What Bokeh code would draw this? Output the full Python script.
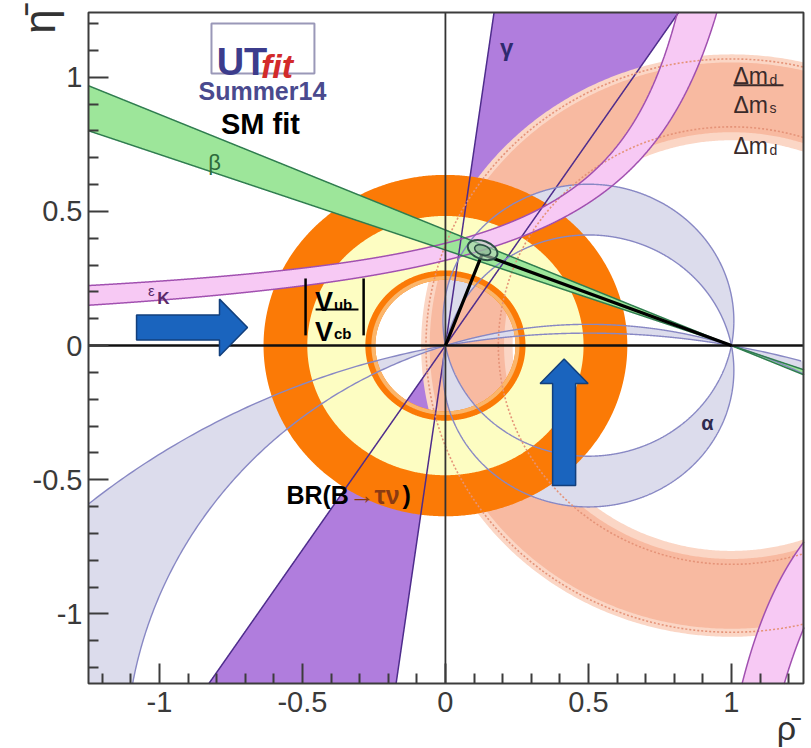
import numpy as np
from bokeh.plotting import figure
from bokeh.models import Label, FixedTicker, Range1d, NumeralTickFormatter
from bokeh.embed import file_html
from bokeh.resources import INLINE

# ---------------------------------------------------------------- data
# visible plot box in (rho, eta)
RHO_BOX = (-1.248, 1.252)
ETA_BOX = (-1.259, 1.241)
# the canvas around it (axes, tick labels and titles live outside the box)
RHO_VIEW = (-1.5557, 1.2800)
ETA_VIEW = (-1.5012, 1.2857)

major_ticks = [-1, -0.5, 0, 0.5, 1]
minor_ticks = [-1.2, -1.1, -0.9, -0.8, -0.7, -0.6, -0.4, -0.3, -0.2, -0.1,
               0.1, 0.2, 0.3, 0.4, 0.6, 0.7, 0.8, 0.9, 1.1, 1.2]

# gamma: angle band (deg) seen from (0,0); drawn with its mirror at +180 deg
gamma_deg = [56.7, 82.2]
# beta: angle band (deg) seen from (1,0)
beta_deg = [19.6, 23.3]
# alpha: (side of the rho axis, alpha low, alpha high) in deg
alpha_sides = [+1, -1, -1, +1]
alpha_lo = [79.5, 79.5, 10.6, 162.0]
alpha_hi = [101.0, 101.0, 18.0, 169.4]
# |Vub/Vcb|: circles around (0,0)
vub_95 = [0.245, 0.636]
vub_68 = [0.280, 0.483]
# Delta m_d and Delta m_d / Delta m_s: circles around (1,0)
dmd_band = [0.765, 1.085]
dmd_dms_band = [0.795, 1.055]
dmd_dotted = [0.815, 1.068]
# eps_K edges, eta = eta0 + k / (rho0 - rho)
epsk_rho0 = [1.09, 1.30, 0.738, 0.837]
epsk_k = [0.322, 0.444, 0.377, 0.438]
epsk_eta0 = [0.086, -0.024, 0.0, 0.0]
# fitted apex and its probability contours
apex_rho, apex_eta = 0.128, 0.340
fit_rho, fit_eta = 0.130, 0.356
fit_w = [0.108, 0.058]
fit_h = [0.068, 0.036]
# block arrows: tail, tip, head base (along the arrow), half widths
arrow_tail = [(-1.080, 0.067), (0.415, -0.521)]
arrow_tip = [(-0.692, 0.067), (0.415, -0.050)]
arrow_head_base = [-0.790, -0.141]
arrow_body_hw = [0.0466, 0.0402]
arrow_head_hw = [0.106, 0.0839]

# ---------------------------------------------------------------- style
FONT = "Liberation Sans"
C_FRAME = "#3c3c3c"
C_GAMMA, C_GAMMA_L = "#b07ddd", "#4e2c8c"
C_BETA, C_BETA_L = "#9de69a", "#2f7d4f"
C_ALPHA, C_ALPHA_L = "#dcdcec", "#8888c4"
C_ORANGE, C_YELLOW, C_ORANGE_L = "#fb7a06", "#fdfdc2", "#fbb56a"
C_DMD, C_DMDS, C_DM_L = "#fbd6c5", "#f8baa1", "#e59378"
C_EPS, C_EPS_L = "#f7c9f4", "#a150b0"
C_ARROW, C_ARROW_L = "#1a64be", "#123f7c"
FAR = 3.0
PAD = 0.002
BOX = (RHO_BOX[0] - PAD, RHO_BOX[1] + PAD, ETA_BOX[0] - PAD, ETA_BOX[1] + PAD)


# ---------------------------------------------------------------- geometry helpers
def _cut_x(a, b, xc):
    t = (xc - a[0]) / (b[0] - a[0])
    return (xc, a[1] + t * (b[1] - a[1]))


def _cut_y(a, b, yc):
    t = (yc - a[1]) / (b[1] - a[1])
    return (a[0] + t * (b[0] - a[0]), yc)


def clip_poly(x, y):
    """Sutherland-Hodgman clipping of a polygon to the plot box."""
    pts = list(zip(map(float, x), map(float, y)))
    xmin, xmax, ymin, ymax = BOX
    tests = [
        (lambda q: q[0] >= xmin, lambda a, b: _cut_x(a, b, xmin)),
        (lambda q: q[0] <= xmax, lambda a, b: _cut_x(a, b, xmax)),
        (lambda q: q[1] >= ymin, lambda a, b: _cut_y(a, b, ymin)),
        (lambda q: q[1] <= ymax, lambda a, b: _cut_y(a, b, ymax)),
    ]
    for inside, cut in tests:
        if not pts:
            break
        out = []
        prev = pts[-1]
        for cur in pts:
            if inside(cur):
                if not inside(prev):
                    out.append(cut(prev, cur))
                out.append(cur)
            elif inside(prev):
                out.append(cut(prev, cur))
            prev = cur
        pts = out
    return [q[0] for q in pts], [q[1] for q in pts]


def clip_line(x, y):
    x = np.asarray(x, dtype=float).copy()
    y = np.asarray(y, dtype=float).copy()
    out = (x < BOX[0]) | (x > BOX[1]) | (y < BOX[2]) | (y > BOX[3])
    x[out] = np.nan
    y[out] = np.nan
    return x, y


def ray_line(x0, y0, ang, n=6000):
    t = np.linspace(-FAR, FAR, n)
    return clip_line(x0 + t * np.cos(ang), y0 + t * np.sin(ang))


def circle(cx, cy, r, n=900):
    t = np.linspace(0, 2 * np.pi, n)
    return cx + r * np.cos(t), cy + r * np.sin(t)


def annulus(cx, cy, r_in, r_out):
    xo, yo = clip_poly(*circle(cx, cy, r_out))
    xi, yi = clip_poly(*circle(cx, cy, r_in))
    return [[[xo, xi[::-1]]]], [[[yo, yi[::-1]]]]


def alpha_arc(alpha, side, n=900):
    """Arc through (0,0) and (1,0) on which the apex angle equals alpha."""
    a = np.radians(alpha)
    c = 0.5 / np.tan(a)
    r = 0.5 / np.sin(a)
    t1 = np.arctan2(-c, 0.5)
    t0 = np.arctan2(-c, -0.5)
    if t0 < t1:
        t0 += 2 * np.pi
    t = np.linspace(t1, t0, n)
    return 0.5 + r * np.cos(t), side * (c + r * np.sin(t))


def epsk_edge(i, rho_a, rho_b, n=3000):
    rho = np.linspace(rho_a, rho_b, n)
    return rho, epsk_eta0[i] + epsk_k[i] / (epsk_rho0[i] - rho)


def rho_at_eta(i, eta):
    return epsk_rho0[i] - epsk_k[i] / (eta - epsk_eta0[i])


def fill(x, y, color):
    cx, cy = clip_poly(x, y)
    if cx:
        p.patch(cx, cy, fill_color=color, line_color=None)


def stroke(x, y, **kw):
    cx, cy = clip_line(x, y)
    p.line(cx, cy, **kw)


p = figure(width=811, height=748, x_range=Range1d(*RHO_VIEW), y_range=Range1d(*ETA_VIEW),
           output_backend="svg", toolbar_location=None, min_border=0)
p.xgrid.visible = False
p.ygrid.visible = False
p.background_fill_color = "white"
p.border_fill_color = "white"
p.outline_line_color = None

# axes drawn along the left and bottom edges of the box
p.xaxis[0].fixed_location = ETA_BOX[0]
p.yaxis[0].fixed_location = RHO_BOX[0]
for ax, standoff in ((p.xaxis[0], 9), (p.yaxis[0], 6)):
    ax.ticker = FixedTicker(ticks=major_ticks, minor_ticks=minor_ticks)
    ax.formatter = NumeralTickFormatter(format="0.[0]")
    ax.major_tick_in, ax.major_tick_out = 20, 0
    ax.minor_tick_in, ax.minor_tick_out = 10, 0
    ax.major_tick_line_width = 2
    ax.minor_tick_line_width = 2
    ax.major_tick_line_color = C_FRAME
    ax.minor_tick_line_color = C_FRAME
    ax.axis_line_color = None
    ax.major_label_text_font = FONT
    ax.major_label_text_font_size = "29px"
    ax.major_label_text_color = "#3a3a3a"
    ax.major_label_standoff = standoff

# ---------------------------------------------------------------- fills
# gamma double wedge from the origin
g1, g2 = np.radians(gamma_deg)
for off in (0.0, np.pi):
    fill([0, FAR * np.cos(g1 + off), FAR * np.cos(g2 + off)],
         [0, FAR * np.sin(g1 + off), FAR * np.sin(g2 + off)], C_GAMMA)

# Delta m_d and Delta m_d / Delta m_s rings around (1,0)
xs, ys = annulus(1, 0, *dmd_band)
p.multi_polygons(xs=xs, ys=ys, fill_color=C_DMD, line_color=None)
xs, ys = annulus(1, 0, *dmd_dms_band)
p.multi_polygons(xs=xs, ys=ys, fill_color=C_DMDS, line_color=None)

# alpha bands between arcs through (0,0) and (1,0)
alpha_edges = []
for side, lo, hi in zip(alpha_sides, alpha_lo, alpha_hi):
    x1, y1 = alpha_arc(lo, side)
    x2, y2 = alpha_arc(hi, side)
    fill(np.concatenate([x1, x2[::-1]]), np.concatenate([y1, y2[::-1]]), C_ALPHA)
    alpha_edges += [(x1, y1), (x2, y2)]

# |Vub/Vcb| rings around the origin
xs, ys = annulus(0, 0, *vub_95)
p.multi_polygons(xs=xs, ys=ys, fill_color=C_ORANGE, line_color=None)
xs, ys = annulus(0, 0, vub_95[0], vub_95[0] + 0.014)
p.multi_polygons(xs=xs, ys=ys, fill_color=C_ORANGE_L, line_color=None)
xs, ys = annulus(0, 0, *vub_68)
p.multi_polygons(xs=xs, ys=ys, fill_color=C_YELLOW, line_color=None)

# eps_K band: upper-left and lower-right branches
top, bot = 1.45, -1.45
ua = epsk_edge(0, -1.4, rho_at_eta(0, top))
ub = epsk_edge(1, -1.4, rho_at_eta(1, top))
fill(np.concatenate([ua[0], ub[0][::-1]]), np.concatenate([ua[1], ub[1][::-1]]), C_EPS)
la = epsk_edge(2, rho_at_eta(2, bot), 1.4)
lb = epsk_edge(3, rho_at_eta(3, bot), 1.4)
fill(np.concatenate([la[0], lb[0][::-1]]), np.concatenate([la[1], lb[1][::-1]]), C_EPS)

# beta double wedge through (1,0)
b1, b2 = np.radians(beta_deg)
fill([1, 1 - FAR * np.cos(b1), 1 - FAR * np.cos(b2)],
     [0, FAR * np.sin(b1), FAR * np.sin(b2)], C_BETA)
fill([1, 1 + FAR * np.cos(b1), 1 + FAR * np.cos(b2)],
     [0, -FAR * np.sin(b1), -FAR * np.sin(b2)], C_BETA)

# ---------------------------------------------------------------- outlines
for g in (g1, g2):
    x, y = ray_line(0, 0, g)
    p.line(x, y, line_color=C_GAMMA_L, line_width=1.5)
for x, y in alpha_edges:
    stroke(x, y, line_color=C_ALPHA_L, line_width=1.4)
for r in dmd_dotted:
    x, y = circle(1, 0, r)
    stroke(x, y, line_color=C_DM_L, line_width=1.6, line_dash="2 2")
for e in (ua, ub, la, lb):
    stroke(e[0], e[1], line_color=C_EPS_L, line_width=1.5)
for b in (b1, b2):
    x, y = ray_line(1, 0, np.pi - b)
    p.line(x, y, line_color=C_BETA_L, line_width=1.5)

# zero axes
p.segment(x0=[RHO_BOX[0]], y0=[0], x1=[RHO_BOX[1]], y1=[0], line_color="#111111", line_width=2.5)
p.segment(x0=[0], y0=[ETA_BOX[0]], x1=[0], y1=[ETA_BOX[1]], line_color="#333333", line_width=1.8)

# fit result: triangle and contours
p.line([0, apex_rho, 1], [0, apex_eta, 0], line_color="black", line_width=3.2)
p.ellipse(x=[fit_rho], y=[fit_eta], width=[fit_w[0]], height=[fit_h[0]], angle=-0.35,
          fill_color="#b9d5bd", fill_alpha=0.6, line_color="#2d4f45", line_width=2)
p.ellipse(x=[fit_rho], y=[fit_eta], width=[fit_w[1]], height=[fit_h[1]], angle=-0.35,
          fill_color="#86b08f", fill_alpha=0.6, line_color="#2d4f45", line_width=1.5)

# plot box
p.quad(left=[RHO_BOX[0]], right=[RHO_BOX[1]], bottom=[ETA_BOX[0]], top=[ETA_BOX[1]],
       fill_color=None, line_color=C_FRAME, line_width=2)


# ---------------------------------------------------------------- text
def text(x, y, s, size, color="black", style="normal", align="center",
         baseline="middle", angle=0.0, font=FONT):
    p.add_layout(Label(x=x, y=y, text=s, text_font=font, text_font_size=f"{size}px",
                       text_color=color, text_font_style=style, text_align=align,
                       text_baseline=baseline, angle=angle))


# UTfit logo
p.quad(left=[-0.818], right=[-0.458], bottom=[1.014], top=[1.200],
       fill_color="white", line_color="#9a98b8", line_width=2)
text(-0.800, 1.055, "UT", 38, color="#3c3c8c", style="bold", align="left", baseline="alphabetic")
text(-0.645, 1.040, "fit", 34, color="#d22b2b", style="bold italic", align="left", baseline="alphabetic")
text(-0.640, 0.950, "Summer14", 25, color="#4a4a8e", style="bold")
text(-0.647, 0.824, "SM fit", 29, style="bold")

text(-0.807, 0.682, "β", 22, color="#2d6b3c")
text(-1.028, 0.205, "ε", 15, color="#5a2a6a")
text(-0.986, 0.175, "K", 17, color="#5a2a6a", style="bold")
text(0.214, 1.111, "γ", 24, color="#2e2a6e", style="bold")
text(0.916, -0.290, "α", 20, color="#2e2a4e", style="bold")

# Delta m labels
dm_col = "#3a2a2a"
text(1.007, 1.006, "Δm", 23, color=dm_col, align="left", baseline="alphabetic")
text(1.133, 0.991, "d", 14, color=dm_col, align="left", baseline="alphabetic")
p.segment(x0=[1.007], y0=[0.970], x1=[1.182], y1=[0.970], line_color=dm_col, line_width=2)
text(1.007, 0.898, "Δm", 23, color=dm_col, align="left", baseline="alphabetic")
text(1.133, 0.887, "s", 14, color=dm_col, align="left", baseline="alphabetic")
text(1.007, 0.742, "Δm", 23, color=dm_col, align="left", baseline="alphabetic")
text(1.133, 0.727, "d", 14, color=dm_col, align="left", baseline="alphabetic")

# BR(B -> tau nu)
text(-0.556, -0.555, "BR(B", 25, style="bold", align="left")
text(-0.335, -0.555, "→τν", 25, color="#8b3a12", style="bold", align="left")
text(-0.150, -0.555, ")", 25, style="bold", align="left")

# |Vub / Vcb|
p.segment(x0=[-0.489, -0.286], y0=[0.250, 0.250], x1=[-0.489, -0.286], y1=[0.038, 0.038],
          line_color="black", line_width=2.5)
p.segment(x0=[-0.454], y0=[0.134], x1=[-0.304], y1=[0.134], line_color="black", line_width=2)
text(-0.456, 0.161, "V", 27, style="bold", align="left", baseline="alphabetic")
text(-0.390, 0.154, "ub", 15, style="bold", align="left", baseline="alphabetic")
text(-0.456, 0.052, "V", 27, style="bold", align="left", baseline="alphabetic")
text(-0.390, 0.045, "cb", 15, style="bold", align="left", baseline="alphabetic")

# axis titles
text(-1.420, 1.2075, "η\u0304", 44, color="#333333", angle=np.pi / 2)
text(1.1925, -1.4230, "ρ\u0304", 34, color="#333333", baseline="alphabetic")

# ---------------------------------------------------------------- arrows
for (tx, ty), (hx, hy), base, bw, hw in zip(arrow_tail, arrow_tip, arrow_head_base,
                                             arrow_body_hw, arrow_head_hw):
    if ty == hy:  # horizontal
        xs = [tx, base, base, hx, base, base, tx]
        ys = [ty + bw, ty + bw, ty + hw, ty, ty - hw, ty - bw, ty - bw]
    else:  # vertical
        xs = [tx - bw, tx - bw, tx - hw, hx, tx + hw, tx + bw, tx + bw]
        ys = [ty, base, base, hy, base, base, ty]
    p.patch(xs, ys, fill_color=C_ARROW, line_color=C_ARROW_L, line_width=1.5)

open("out.html", "w").write(file_html(p, INLINE))
